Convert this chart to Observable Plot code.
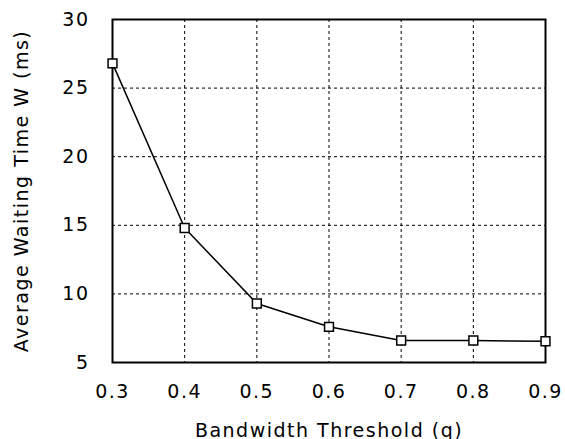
<!DOCTYPE html>
<html>
<head>
<meta charset="utf-8">
<script src="https://cdn.jsdelivr.net/npm/d3@7"></script>
<script src="https://cdn.jsdelivr.net/npm/@observablehq/plot@0.6"></script>
<style>
  html, body { margin: 0; padding: 0; background: #fff; }
  svg text { letter-spacing: 1.5px; }
</style>
</head>
<body>
<div id="chart"></div>
<script>
const thresholds = [0.3, 0.4, 0.5, 0.6, 0.7, 0.8, 0.9];
const waitingTimes = [26.8, 14.8, 9.3, 7.6, 6.6, 6.6, 6.55];
const xTicks = [0.3, 0.4, 0.5, 0.6, 0.7, 0.8, 0.9];
const yTicks = [5, 10, 15, 20, 25, 30];

const data = thresholds.map((q, i) => ({q, w: waitingTimes[i]}));

const chart = Plot.plot({
  width: 565,
  height: 439,
  marginLeft: 112,
  marginRight: 20,
  marginTop: 19,
  marginBottom: 77,
  style: {fontFamily: "DejaVu Sans", fontSize: "19px", color: "black", background: "white"},
  x: {domain: [0.3, 0.9]},
  y: {domain: [5, 30]},
  marks: [
    Plot.gridX(xTicks, {stroke: "black", strokeOpacity: 1, strokeWidth: 1, strokeDasharray: "3,3"}),
    Plot.gridY(yTicks, {stroke: "black", strokeOpacity: 1, strokeWidth: 1, strokeDasharray: "3,3"}),
    Plot.axisX(xTicks, {
      tickSize: 0, tickPadding: 22, fontSize: 19,
      tickFormat: d => d.toFixed(1),
      label: "Bandwidth Threshold (q)", labelAnchor: "center", labelArrow: "none", labelOffset: 74
    }),
    Plot.axisY(yTicks, {
      tickSize: 0, tickPadding: 23, fontSize: 19,
      label: "Average Waiting Time W (ms)", labelAnchor: "center", labelArrow: "none", labelOffset: 98
    }),
    Plot.frame({stroke: "black", strokeWidth: 2}),
    Plot.line(data, {x: "q", y: "w", stroke: "black", strokeWidth: 1.5}),
    Plot.dot(data, {x: "q", y: "w", symbol: "square", r: 5, fill: "white", stroke: "black", strokeWidth: 1.5})
  ]
});
document.getElementById("chart").append(chart);
</script>
</body>
</html>
